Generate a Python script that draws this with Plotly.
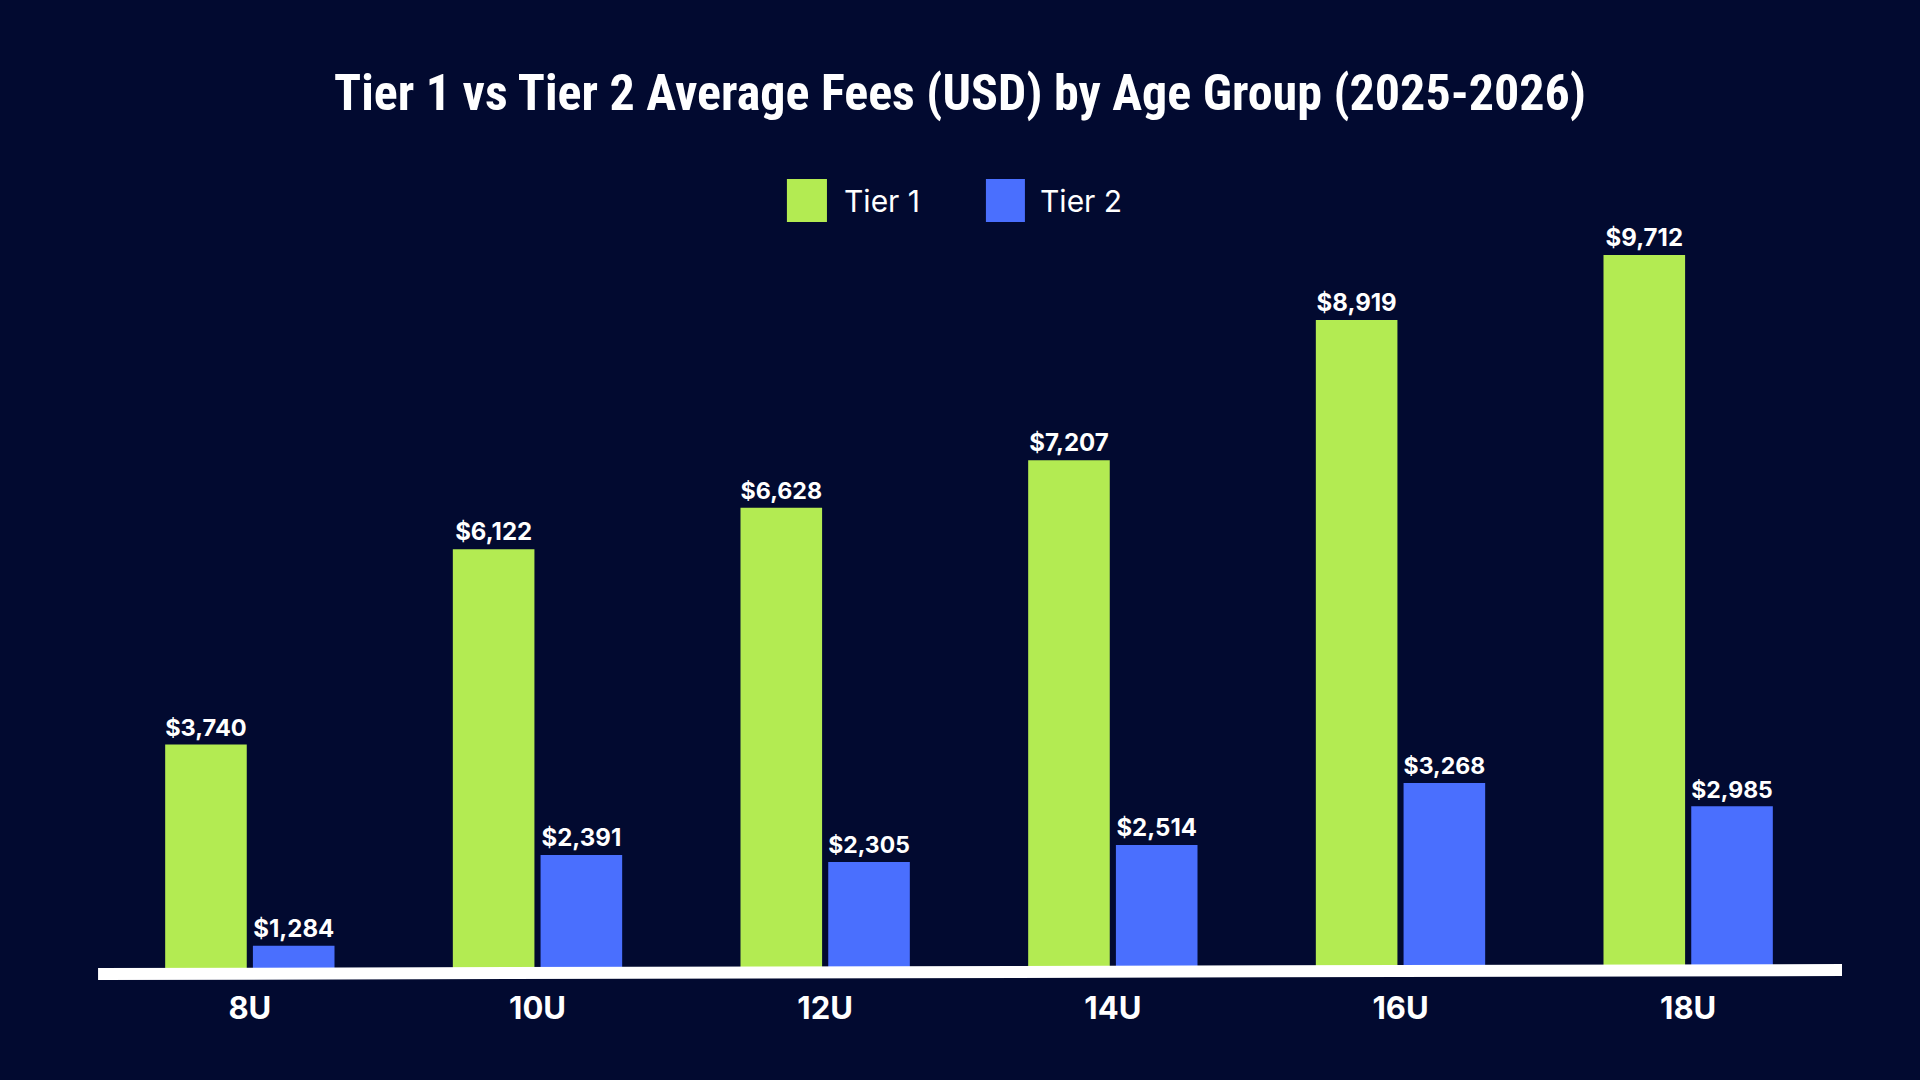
import plotly.graph_objects as go

age_groups = ["8U", "10U", "12U", "14U", "16U", "18U"]
tier1_fees = [3740, 6122, 6628, 7207, 8919, 9712]
tier2_fees = [1284, 2391, 2305, 2514, 3268, 2985]
series_names = ["Tier 1", "Tier 2"]

bg = "#020a30"
green = "#b3eb52"
blue = "#4a6ffe"
label_font = "Inter"

fig = go.Figure()
fig.add_trace(go.Bar(x=age_groups, y=tier1_fees, name=series_names[0],
                     marker=dict(color=green, line=dict(width=0)),
                     texttemplate="$%{y:,}", textposition="outside",
                     textfont=dict(family=label_font, size=24, color="white", weight="bold"),
                     cliponaxis=False))
fig.add_trace(go.Bar(x=age_groups, y=tier2_fees, name=series_names[1],
                     marker=dict(color=blue, line=dict(width=0)),
                     texttemplate="$%{y:,}", textposition="outside",
                     textfont=dict(family=label_font, size=24, color="white", weight="bold"),
                     cliponaxis=False))

# hand-made legend with big squares
legend_items = [(0.3945, 0.4177, 0.4264, green), (0.5098, 0.5324, 0.5400, blue)]
for (x0, x1, tx, col), name in zip(legend_items, series_names):
    fig.add_shape(type="rect", xref="paper", yref="paper", x0=x0, x1=x1, y0=0.9714, y1=1.0273,
                  fillcolor=col, line=dict(width=0))
    fig.add_annotation(xref="paper", yref="paper", x=tx, y=0.9987, xanchor="left", yanchor="middle",
                       text=name, showarrow=False,
                       font=dict(family=label_font, size=30, color="white"))

# white baseline, a touch slanted like the original
fig.add_shape(type="line", xref="paper", yref="paper", x0=-0.0046, x1=1.0058, y0=-0.0065, y1=-0.0013,
              line=dict(color="white", width=12), layer="above")

fig.update_layout(
    width=1920, height=1080,
    paper_bgcolor=bg, plot_bgcolor=bg,
    margin=dict(l=106, r=88, t=200, b=111),
    title=dict(text="Tier 1 vs Tier 2 Average Fees (USD) by Age Group (2025-2026)",
               x=0.5, xanchor="center", y=0.914, yanchor="middle",
               font=dict(family="Roboto Condensed, DejaVu Sans Condensed, Liberation Sans Narrow, sans-serif",
                         size=50, color="white", weight="bold")),
    showlegend=False,
    barmode="group", bargap=0.39, bargroupgap=0.07,
    xaxis=dict(showgrid=False, zeroline=False, showline=False,
               ticks="outside", ticklen=12, tickcolor=bg,
               tickfont=dict(family=label_font, size=31, color="white", weight="bold")),
    yaxis=dict(range=[1000, 10382], showgrid=False, zeroline=False, showline=False,
               showticklabels=False),
)

fig.write_html("out.html", config={"displayModeBar": False},
               post_script="document.body.style.margin='0';")
